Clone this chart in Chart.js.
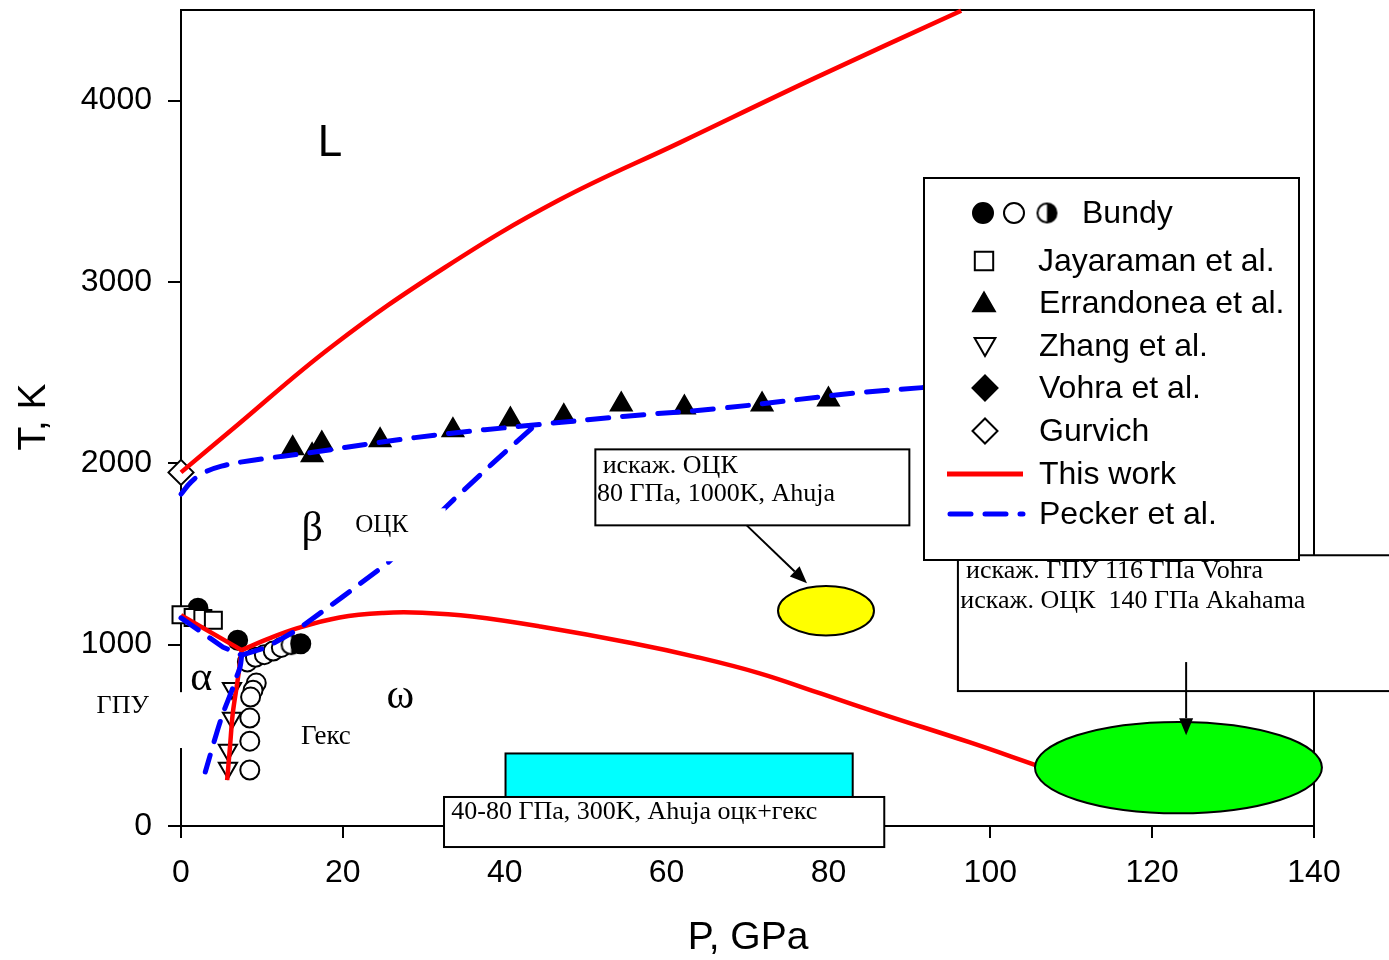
<!DOCTYPE html>
<html>
<head>
<meta charset="utf-8">
<script src="https://cdn.jsdelivr.net/npm/chart.js@4.4.1/dist/chart.umd.min.js"></script>
<style>
  html, body { margin: 0; padding: 0; background: #fff; }
  canvas { display: block; }
</style>
</head>
<body>
<canvas id="phase" width="1389" height="960"></canvas>
<script>
// ─── DATA (P in GPa, T in K) ─────────────────────────────────────────────
// This work
const meltP = [0, 6.2, 18.8, 32.6, 46.6, 61.7, 78.1, 96.4];
const meltT = [1950, 2182, 2650, 3080, 3449, 3770, 4120, 4496];
const abP   = [0, 7.5];
const abT   = [1162, 970];
const awP   = [7.5, 7.0, 6.4, 6.05, 5.7];
const awT   = [970, 804, 623, 435, 253];
const bwP   = [7.5, 11, 14.3, 19.6, 25, 29.8, 36, 44.4, 55.8, 63.6, 71.4, 79.2, 87, 97.4, 105.6];
const bwT   = [970, 1036, 1090, 1150, 1175, 1176, 1155, 1100, 1008, 933, 843, 728, 612, 462, 336];

// Pecker et al.
const pMeltP = [0, 1.2, 2.7, 5, 8.9, 16.3, 24.6, 33.2, 41.9, 55, 66.6, 83, 92];
const pMeltT = [1830, 1895, 1945, 1985, 2017, 2061, 2116, 2165, 2204, 2260, 2303, 2386, 2419];
const pAbP   = [0, 3.6, 5.2, 7.5];
const pAbT   = [1148, 1036, 986, 942];
const pAwP   = [7.5, 7.3, 6.7, 6.3, 5.2, 4.4, 3.0];
const pAwT   = [942, 876, 804, 749, 623, 512, 298];
const pBwP   = [7.5, 10.6, 14.3, 20, 25.5, 33.6, 38.5, 43.5];
const pBwT   = [942, 986, 1080, 1265, 1449, 1796, 2000, 2200];

// Experimental points
const bundyOpenP = [8.2, 9.2, 10.3, 11.4, 12.4, 9.3, 8.9, 8.6, 8.5, 8.5, 8.5];
const bundyOpenT = [905, 930, 945, 965, 985, 788, 749, 711, 595, 468, 309];
const bundyFillP = [2.1, 7.0, 14.8];
const bundyFillT = [1201, 1025, 1005];
const bundyHalfP = [13.6];
const bundyHalfT = [1000];
const jayP  = [0, 1.5, 2.7, 4.0];
const jayT  = [1165, 1150, 1145, 1135];
const errP  = [13.8, 16.2, 17.4, 24.6, 33.6, 40.7, 47.3, 54.4, 62.2, 71.8, 80];
const errT  = [2083, 2044, 2110, 2127, 2182, 2242, 2259, 2325, 2308, 2325, 2352];
const zhP   = [6.3, 6.3, 5.8, 5.8];
const zhT   = [760, 595, 419, 320];
const gurP  = [0];
const gurT  = [1950];

const xTicks = [0, 20, 40, 60, 80, 100, 120, 140];
const yTicks = [0, 1000, 2000, 3000, 4000];

const SANS  = '"Liberation Sans", Arial, sans-serif';
const SERIF = '"Liberation Serif", "Times New Roman", serif';
const RED   = "#ff0000";
const BLUE  = "#0000ff";

const zip = (ps, ts) => ps.map((p, i) => ({ x: p, y: ts[i] }));

// half-filled circle marker (right half black)
function halfCircle(r) {
  const c = document.createElement("canvas");
  const s = Math.ceil(2 * r + 4);
  c.width = s; c.height = s;
  const g = c.getContext("2d");
  g.beginPath(); g.arc(s / 2, s / 2, r, 0, Math.PI * 2);
  g.fillStyle = "#fff"; g.fill();
  g.beginPath(); g.arc(s / 2, s / 2, r, -Math.PI / 2, Math.PI / 2);
  g.fillStyle = "#000"; g.fill();
  g.beginPath(); g.arc(s / 2, s / 2, r, 0, Math.PI * 2);
  g.lineWidth = 2; g.strokeStyle = "#000"; g.stroke();
  return c;
}
const HALF = halfCircle(9.5);

function lineSet(label, ps, ts, color, dashed, tension) {
  return {
    label, data: zip(ps, ts), showLine: true, pointRadius: 0,
    borderColor: color, borderWidth: dashed ? 5 : 4.5,
    borderDash: dashed ? [21, 14] : [],
    borderCapStyle: dashed ? "round" : "butt",
    borderJoinStyle: "round",
    tension: tension || 0,
    order: dashed ? 0 : 1, clip: false
  };
}

function markerSet(label, ps, ts, style, radius, fill, order, rotation) {
  return {
    label, data: zip(ps, ts), showLine: false,
    pointStyle: style, pointRadius: radius, pointHoverRadius: radius,
    pointRotation: rotation || 0,
    pointBackgroundColor: fill, pointBorderColor: "#000", pointBorderWidth: 2,
    order, clip: false
  };
}

// ─── ANNOTATIONS: frame, phase labels, boxes, legend ──────────────────────
const annotate = {
  id: "annotate",
  beforeDatasetsDraw(chart) {
    const { ctx, chartArea: a } = chart;
    ctx.save();
    ctx.strokeStyle = "#000"; ctx.lineWidth = 2;
    ctx.beginPath();
    ctx.moveTo(a.left, a.top); ctx.lineTo(a.right, a.top); ctx.lineTo(a.right, a.bottom);
    ctx.stroke();
    ctx.restore();
  },
  afterDatasetsDraw(chart) {
    const { ctx, scales: { x, y } } = chart;
    const X = v => x.getPixelForValue(v);
    const Y = v => y.getPixelForValue(v);
    ctx.save();

    const rectBox = (p0, t0, p1, t1, fill, stroke) => {
      const l = X(p0), r = X(p1), t = Y(t0), b = Y(t1);
      ctx.fillStyle = fill; ctx.fillRect(l, t, r - l, b - t);
      if (stroke) { ctx.lineWidth = 2; ctx.strokeStyle = "#000"; ctx.strokeRect(l, t, r - l, b - t); }
    };
    const ellipse = (cp, ct, rp, rt, fill) => {
      ctx.beginPath();
      ctx.ellipse(X(cp), Y(ct), X(cp + rp) - X(cp), Y(ct - rt) - Y(ct), 0, 0, Math.PI * 2);
      ctx.fillStyle = fill; ctx.fill();
      ctx.lineWidth = 2; ctx.strokeStyle = "#000"; ctx.stroke();
    };
    const text = (s, p, t, font, align) => {
      ctx.font = font; ctx.fillStyle = "#000";
      ctx.textAlign = align || "center"; ctx.textBaseline = "middle";
      ctx.fillText(s, X(p), Y(t));
    };
    const arrow = (p0, t0, p1, t1) => {
      const x0 = X(p0), y0 = Y(t0), x1 = X(p1), y1 = Y(t1);
      const ang = Math.atan2(y1 - y0, x1 - x0), len = 17, hw = 7;
      ctx.strokeStyle = "#000"; ctx.fillStyle = "#000"; ctx.lineWidth = 2;
      ctx.beginPath(); ctx.moveTo(x0, y0);
      ctx.lineTo(x1 - Math.cos(ang) * len, y1 - Math.sin(ang) * len); ctx.stroke();
      ctx.beginPath();
      ctx.moveTo(x1, y1);
      ctx.lineTo(x1 - Math.cos(ang) * len - Math.sin(ang) * hw, y1 - Math.sin(ang) * len + Math.cos(ang) * hw);
      ctx.lineTo(x1 - Math.cos(ang) * len + Math.sin(ang) * hw, y1 - Math.sin(ang) * len - Math.cos(ang) * hw);
      ctx.closePath(); ctx.fill();
    };

    // phase labels
    text("L", 18.4, 3763, `44px ${SANS}`);
    text("β", 16.2, 1631, `42px ${SERIF}`);
    rectBox(20.3, 1752, 32.7, 1460, "#fff", false);
    text("ОЦК", 24.8, 1658, `25px ${SERIF}`);
    text("α", 2.5, 810, `42px ${SERIF}`);
    rectBox(-11.2, 738, 0.6, 430, "#fff", false);
    text("ГПУ", -7.2, 661, `26px ${SERIF}`);
    text("ω", 27.1, 711, `42px ${SERIF}`);
    text("Гекс", 17.9, 490, `27px ${SERIF}`);

    // Ahuja 40-80 GPa region and its caption
    rectBox(40.1, 400, 83.0, 150, "#00ffff", true);
    rectBox(32.5, 160, 86.9, -116, "#fff", true);
    text("40-80 ГПа, 300K, Ahuja оцк+гекс", 33.4, 77, `26px ${SERIF}`, "left");

    // distorted bcc at 80 GPa
    rectBox(51.2, 2077, 90.0, 1658, "#fff", true);
    text("искаж. ОЦК", 52.1, 1983, `26px ${SERIF}`, "left");
    text("80 ГПа, 1000K, Ahuja", 51.4, 1829, `26px ${SERIF}`, "left");
    arrow(69.9, 1658, 77.35, 1339);
    ellipse(79.7, 1187, 5.93, 136, "#ffff00");

    // high-pressure distorted phases
    ellipse(123.25, 322, 17.73, 252, "#00ff00");
    rectBox(96.0, 1493, 150, 744, "#fff", true);
    text("искаж. ГПУ 116 ГПа Vohra", 97.0, 1405, `26px ${SERIF}`, "left");
    text("искаж. ОЦК  140 ГПа Akahama", 96.3, 1240, `26px ${SERIF}`, "left");
    arrow(124.2, 904, 124.2, 501);

    ctx.restore();
    drawLegend(chart);
    drawTitles(chart);
  }
};

function drawTitles(chart) {
  const { ctx } = chart;
  ctx.save();
  ctx.fillStyle = "#000";
  ctx.font = `39px ${SANS}`;
  ctx.textAlign = "center"; ctx.textBaseline = "middle";
  ctx.fillText("P, GPa", 748, 938);
  ctx.translate(34, 417); ctx.rotate(-Math.PI / 2);
  ctx.fillText("T, K", 0, 0);
  ctx.restore();
}

// legend box sits in the upper right of the plot
function drawLegend(chart) {
  const { ctx } = chart;
  const L = 924, T = 178, W = 375, H = 382;
  const draw = Chart.helpers.drawPoint;
  ctx.save();
  ctx.fillStyle = "#fff"; ctx.fillRect(L, T, W, H);
  ctx.lineWidth = 2; ctx.strokeStyle = "#000"; ctx.strokeRect(L, T, W, H);

  const sym = (style, r, fill, x, yy, rot) => {
    ctx.fillStyle = fill; ctx.strokeStyle = "#000"; ctx.lineWidth = 2;
    draw(ctx, { pointStyle: style, radius: r, rotation: rot || 0, borderWidth: 2 }, L + x, T + yy);
  };
  sym("circle", 10, "#000", 59, 35);
  sym("circle", 10, "#fff", 90, 35);
  sym(HALF, 10, "#fff", 123, 35);
  sym("rect", 13, "#fff", 60, 83);
  sym("triangle", 12.5, "#000", 60, 127);
  sym("triangle", 12, "#fff", 61, 166, 180);
  sym("rectRot", 12.5, "#000", 61, 210);
  sym("rectRot", 12.5, "#fff", 61, 253);

  ctx.lineCap = "butt";
  ctx.strokeStyle = RED; ctx.lineWidth = 5;
  ctx.beginPath(); ctx.moveTo(L + 23, T + 296); ctx.lineTo(L + 99, T + 296); ctx.stroke();
  ctx.strokeStyle = BLUE; ctx.lineCap = "round"; ctx.setLineDash([21, 14]);
  ctx.beginPath(); ctx.moveTo(L + 26, T + 336); ctx.lineTo(L + 99, T + 336); ctx.stroke();
  ctx.setLineDash([]);

  ctx.fillStyle = "#000"; ctx.font = `32px ${SANS}`;
  ctx.textAlign = "left"; ctx.textBaseline = "middle";
  const rows = [
    ["Bundy", 158, 35], ["Jayaraman et al.", 114, 83], ["Errandonea et al.", 115, 125],
    ["Zhang et al.", 115, 168], ["Vohra et al.", 115, 210], ["Gurvich", 115, 253],
    ["This work", 115, 296], ["Pecker et al.", 115, 336]
  ];
  rows.forEach(([s, x, yy]) => ctx.fillText(s, L + x, T + yy + 1));
  ctx.restore();
}

// ─── CHART ────────────────────────────────────────────────────────────────
const tickFont = { family: SANS, size: 32 };

new Chart(document.getElementById("phase"), {
  type: "scatter",
  data: {
    datasets: [
      lineSet("Pecker melt", pMeltP, pMeltT, BLUE, true, 0.4),
      lineSet("Pecker α-β", pAbP, pAbT, BLUE, true, 0),
      lineSet("Pecker α-ω", pAwP, pAwT, BLUE, true, 0.3),
      lineSet("Pecker β-ω", pBwP, pBwT, BLUE, true, 0),
      lineSet("melt", meltP, meltT, RED, false, 0.4),
      lineSet("α-β", abP, abT, RED, false, 0),
      lineSet("α-ω", awP, awT, RED, false, 0.3),
      lineSet("β-ω", bwP, bwT, RED, false, 0.4),
      markerSet("Bundy open", bundyOpenP, bundyOpenT, "circle", 9.5, "#fff", 6),
      markerSet("Bundy half", bundyHalfP, bundyHalfT, HALF, 9.5, "#fff", 5),
      markerSet("Bundy filled", bundyFillP, bundyFillT, "circle", 9.5, "#000", 4),
      markerSet("Jayaraman", jayP, jayT, "rect", 12, "#fff", 3),
      markerSet("Errandonea", errP, errT, "triangle", 12, "#000", 3),
      markerSet("Zhang", zhP, zhT, "triangle", 10.5, "#fff", 3, 180),
      markerSet("Gurvich", gurP, gurT, "rectRot", 12.5, "#fff", 3)
    ]
  },
  options: {
    responsive: false,
    animation: false,
    events: [],
    layout: { autoPadding: false, padding: { left: 0, top: 10, right: 75, bottom: 0 } },
    plugins: { legend: { display: false }, tooltip: { enabled: false } },
    scales: {
      x: {
        type: "linear", min: 0, max: 140,
        afterBuildTicks: s => { s.ticks = xTicks.map(v => ({ value: v })); },
        ticks: { color: "#000", font: tickFont, padding: 16, maxRotation: 0, callback: v => String(v) },
        grid: { drawOnChartArea: false, color: "#000", lineWidth: 2, tickLength: 12 },
        border: { color: "#000", width: 2 },
        afterFit: s => { s.height = 134; s.paddingLeft = 0; s.paddingRight = 0; }
      },
      y: {
        type: "linear", min: 0, max: 4500,
        afterBuildTicks: s => { s.ticks = yTicks.map(v => ({ value: v })); },
        ticks: { color: "#000", font: tickFont, padding: 16, callback: v => String(v) },
        grid: { drawOnChartArea: false, color: "#000", lineWidth: 2, tickLength: 13 },
        border: { color: "#000", width: 2 },
        afterFit: s => { s.width = 181; s.paddingTop = 0; s.paddingBottom = 0; }
      }
    }
  },
  plugins: [annotate]
});
</script>
</body>
</html>
